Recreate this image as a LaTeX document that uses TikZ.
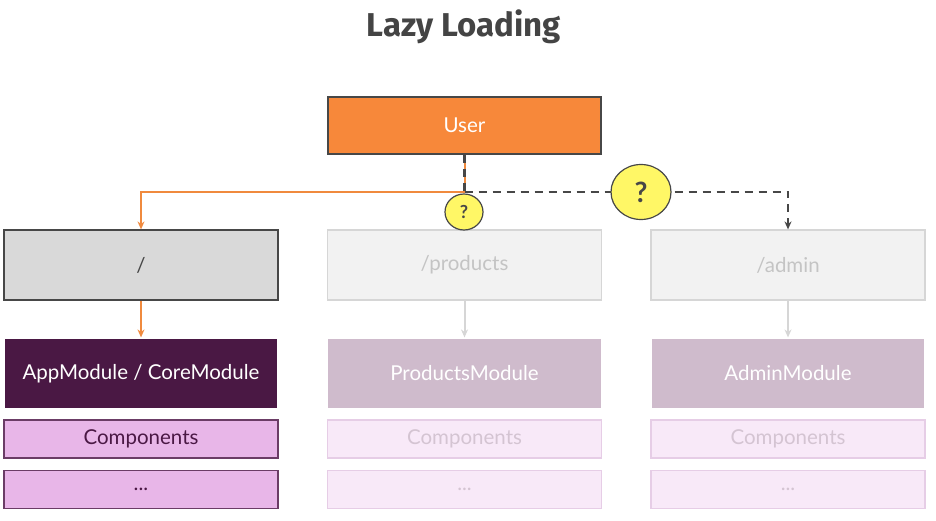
\documentclass[tikz,border=0pt]{standalone}
\usepackage{fontspec}
\setmainfont{Lato}
\newfontfamily\titlefont{Fira Sans}
\usetikzlibrary{arrows.meta,shapes.geometric}
\definecolor{userorange}{HTML}{F7883A}
\definecolor{lineorange}{HTML}{F08A3E}
\definecolor{darkline}{HTML}{474747}
\definecolor{routegray}{HTML}{D9D9D9}
\definecolor{darkpurple}{HTML}{4A1844}
\definecolor{lightpurple}{HTML}{E8B6E8}
\definecolor{purpleborder}{HTML}{6B3C66}
\definecolor{fadebox}{HTML}{F2F2F2}
\definecolor{fadeborder}{HTML}{D6D6D6}
\definecolor{fadetext}{HTML}{C4C4C4}
\definecolor{fademodule}{HTML}{CFBBCC}
\definecolor{fadecomp}{HTML}{F8E9F8}
\definecolor{fadecompborder}{HTML}{E6CDE6}
\definecolor{fadecomptext}{HTML}{D4C4D2}
\definecolor{qyellow}{HTML}{FFF766}
\definecolor{titlegray}{HTML}{444444}
\begin{document}
\begin{tikzpicture}[x=1pt,y=-1pt,
  box/.style={rectangle,inner sep=0pt,line width=1.2pt,font=\fontsize{20.5}{24}\selectfont},
  userbox/.style={box,fill=userorange,draw=darkline,text=white,minimum width=273pt,minimum height=57pt},
  routeact/.style={box,fill=routegray,draw=darkline,text=darkline,minimum width=274pt,minimum height=70pt},
  routefade/.style={box,fill=fadebox,draw=fadeborder,text=fadetext,minimum width=274pt,minimum height=70pt},
  modact/.style={box,fill=darkpurple,draw=white,text=white,minimum width=274pt,minimum height=71pt},
  modfade/.style={box,fill=fademodule,draw=white,text=white,minimum width=274pt,minimum height=71pt},
  compact/.style={box,fill=lightpurple,draw=purpleborder,text=darkpurple,minimum width=274pt,minimum height=38pt},
  compfade/.style={box,fill=fadecomp,draw=fadecompborder,text=fadecomptext,minimum width=274pt,minimum height=38pt},
  qmark/.style={ellipse,inner sep=0pt,fill=qyellow,draw=darkline,line width=1.2pt,text=darkline,font=\bfseries},
  oline/.style={draw=lineorange,line width=2pt},
  dline/.style={draw=darkline,line width=2.4pt,dash pattern=on 8pt off 6pt},
  gline/.style={draw=fadeborder,line width=2pt},
  tip/.style={-{Stealth[length=8pt,width=7pt]}}
]
\useasboundingbox (0,0) rectangle (936,521);
\node[font=\titlefont\bfseries\fontsize{33}{38}\selectfont,text=titlegray] (title) at (464,27) {Lazy Loading};
\node[userbox] (user) at (464.5,125.5) {User};
\node[routeact] (root) at (141,265) {/};
\node[routefade] (products) at (464.5,265) {/products};
\node[routefade] (admin) at (788,265) {/admin};
\node[modact] (appmod) at (141,373.5) {AppModule / CoreModule};
\node[modfade] (prodmod) at (464.5,373.5) {ProductsModule};
\node[modfade] (adminmod) at (788,373.5) {AdminModule};
\node[compact] (comp1) at (141,439) {Components};
\node[compfade] (comp2) at (464.5,439) {Components};
\node[compfade] (comp3) at (788,439) {Components};
\node[compact] (dots1) at (141,489.5) {...};
\node[compfade] (dots2) at (464.5,489.5) {...};
\node[compfade] (dots3) at (788,489.5) {...};
\coordinate (junction) at (464.5,192);
% lines
\draw[oline,tip] (user.south) -- (junction) -| (root.north);
\draw[dline] (user.south) -- (junction);
\draw[dline,tip] (junction) -| (admin.north);
\draw[oline,tip] (root.south) -- (appmod.north);
\draw[gline,tip] (products.south) -- (prodmod.north);
\draw[gline,tip] (admin.south) -- (adminmod.north);
% question marks
\node[qmark,minimum width=38pt,minimum height=36pt,font=\bfseries\fontsize{18}{21}\selectfont] (qsmall) at (464,212) {?};
\node[qmark,minimum width=60pt,minimum height=55pt,font=\bfseries\fontsize{28}{32}\selectfont] (qbig) at (641,192) {?};
\end{tikzpicture}
\end{document}
